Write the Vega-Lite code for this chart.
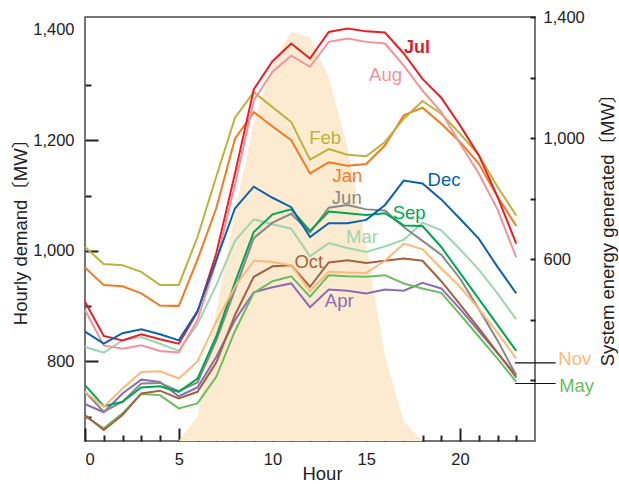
{
  "$schema": "https://vega.github.io/schema/vega-lite/v6.json",
  "width": 450,
  "height": 424,
  "autosize": {"type": "none"},
  "padding": {"left": 85, "top": 17, "right": 84, "bottom": 43},
  "background": "white",
  "config": {
    "font": "Liberation Sans, Noto Sans CJK JP, sans-serif",
    "view": {"stroke": "#4a4a4a", "strokeWidth": 1.5},
    "axis": {
      "domain": false,
      "grid": false,
      "tickColor": "#222222",
      "tickWidth": 2,
      "labelColor": "#222222",
      "titleColor": "#222222",
      "labelFont": "Liberation Sans, sans-serif",
      "titleFont": "Liberation Sans, Noto Sans CJK JP, sans-serif",
      "labelFontSize": 16.5,
      "titleFontSize": 18.5,
      "titleFontWeight": "normal"
    }
  },
  "datasets": {
    "demand": [
      {"h": 0, "Jan": 970, "Feb": 1007, "Mar": 826, "Apr": 723, "May": 701, "Jun": 745, "Jul": 908, "Aug": 893, "Sep": 757, "Oct": 703, "Nov": 745, "Dec": 854},
      {"h": 1, "Jan": 938, "Feb": 976, "Mar": 816, "Apr": 708, "May": 679, "Jun": 709, "Jul": 846, "Aug": 829, "Sep": 719, "Oct": 676, "Nov": 718, "Dec": 832},
      {"h": 2, "Jan": 936, "Feb": 974, "Mar": 838, "Apr": 742, "May": 706, "Jun": 727, "Jul": 838, "Aug": 823, "Sep": 727, "Oct": 703, "Nov": 751, "Dec": 851},
      {"h": 3, "Jan": 923, "Feb": 962, "Mar": 844, "Apr": 767, "May": 741, "Jun": 760, "Jul": 849, "Aug": 829, "Sep": 753, "Oct": 742, "Nov": 781, "Dec": 858},
      {"h": 4, "Jan": 901, "Feb": 938, "Mar": 832, "Apr": 763, "May": 739, "Jun": 761, "Jul": 840, "Aug": 819, "Sep": 755, "Oct": 747, "Nov": 782, "Dec": 849},
      {"h": 5, "Jan": 900, "Feb": 938, "Mar": 819, "Apr": 737, "May": 715, "Jun": 746, "Jul": 832, "Aug": 816, "Sep": 745, "Oct": 733, "Nov": 769, "Dec": 838},
      {"h": 6, "Jan": 984, "Feb": 1025, "Mar": 867, "Apr": 753, "May": 724, "Jun": 762, "Jul": 889, "Aug": 875, "Sep": 769, "Oct": 745, "Nov": 800, "Dec": 891},
      {"h": 7, "Jan": 1077, "Feb": 1134, "Mar": 938, "Apr": 808, "May": 772, "Jun": 838, "Jul": 995, "Aug": 980, "Sep": 845, "Oct": 798, "Nov": 872, "Dec": 983},
      {"h": 8, "Jan": 1203, "Feb": 1241, "Mar": 1018, "Apr": 875, "May": 855, "Jun": 930, "Jul": 1140, "Aug": 1120, "Sep": 943, "Oct": 884, "Nov": 935, "Dec": 1077},
      {"h": 9, "Jan": 1251, "Feb": 1287, "Mar": 1057, "Apr": 925, "May": 924, "Jun": 1023, "Jul": 1292, "Aug": 1272, "Sep": 1034, "Oct": 953, "Nov": 982, "Dec": 1116},
      {"h": 10, "Jan": 1225, "Feb": 1260, "Mar": 1048, "Apr": 934, "May": 945, "Jun": 1051, "Jul": 1343, "Aug": 1324, "Sep": 1066, "Oct": 972, "Nov": 980, "Dec": 1096},
      {"h": 11, "Jan": 1200, "Feb": 1233, "Mar": 1040, "Apr": 941, "May": 954, "Jun": 1067, "Jul": 1375, "Aug": 1353, "Sep": 1075, "Oct": 974, "Nov": 974, "Dec": 1079},
      {"h": 12, "Jan": 1140, "Feb": 1165, "Mar": 990, "Apr": 898, "May": 917, "Jun": 1033, "Jul": 1348, "Aug": 1333, "Sep": 1036, "Oct": 935, "Nov": 927, "Dec": 1025},
      {"h": 13, "Jan": 1160, "Feb": 1184, "Mar": 1014, "Apr": 930, "May": 956, "Jun": 1078, "Jul": 1396, "Aug": 1378, "Sep": 1071, "Oct": 979, "Nov": 962, "Dec": 1050},
      {"h": 14, "Jan": 1154, "Feb": 1174, "Mar": 1005, "Apr": 928, "May": 954, "Jun": 1083, "Jul": 1402, "Aug": 1384, "Sep": 1068, "Oct": 983, "Nov": 961, "Dec": 1050},
      {"h": 15, "Jan": 1157, "Feb": 1171, "Mar": 998, "Apr": 923, "May": 953, "Jun": 1075, "Jul": 1397, "Aug": 1378, "Sep": 1065, "Oct": 978, "Nov": 960, "Dec": 1056},
      {"h": 16, "Jan": 1191, "Feb": 1197, "Mar": 1008, "Apr": 930, "May": 956, "Jun": 1073, "Jul": 1395, "Aug": 1375, "Sep": 1068, "Oct": 982, "Nov": 982, "Dec": 1083},
      {"h": 17, "Jan": 1245, "Feb": 1239, "Mar": 1020, "Apr": 928, "May": 941, "Jun": 1043, "Jul": 1357, "Aug": 1335, "Sep": 1046, "Oct": 986, "Nov": 1013, "Dec": 1127},
      {"h": 18, "Jan": 1259, "Feb": 1271, "Mar": 1051, "Apr": 942, "May": 932, "Jun": 1018, "Jul": 1311, "Aug": 1290, "Sep": 1045, "Oct": 982, "Nov": 1003, "Dec": 1122},
      {"h": 19, "Jan": 1230, "Feb": 1248, "Mar": 1037, "Apr": 932, "May": 924, "Jun": 993, "Jul": 1277, "Aug": 1251, "Sep": 1007, "Oct": 945, "Nov": 968, "Dec": 1093},
      {"h": 20, "Jan": 1197, "Feb": 1212, "Mar": 1003, "Apr": 895, "May": 885, "Jun": 950, "Jul": 1227, "Aug": 1194, "Sep": 960, "Oct": 903, "Nov": 935, "Dec": 1058},
      {"h": 21, "Jan": 1158, "Feb": 1173, "Mar": 966, "Apr": 855, "May": 845, "Jun": 895, "Jul": 1173, "Aug": 1140, "Sep": 913, "Oct": 860, "Nov": 895, "Dec": 1022},
      {"h": 22, "Jan": 1098, "Feb": 1116, "Mar": 923, "Apr": 815, "May": 805, "Jun": 838, "Jul": 1098, "Aug": 1075, "Sep": 866, "Oct": 816, "Nov": 852, "Dec": 971},
      {"h": 23, "Jan": 1045, "Feb": 1064, "Mar": 876, "Apr": 775, "May": 763, "Jun": 775, "Jul": 1013, "Aug": 988, "Sep": 819, "Oct": 771, "Nov": 805, "Dec": 923}
    ],
    "solar": [
      {"h": 5, "gen": 0},
      {"h": 6, "gen": 80},
      {"h": 7, "gen": 430},
      {"h": 8, "gen": 755},
      {"h": 9, "gen": 1050},
      {"h": 10, "gen": 1240},
      {"h": 11, "gen": 1352},
      {"h": 12, "gen": 1332},
      {"h": 13, "gen": 1200},
      {"h": 14, "gen": 970},
      {"h": 15, "gen": 645},
      {"h": 16, "gen": 280},
      {"h": 17, "gen": 64},
      {"h": 18, "gen": 0}
    ],
    "labels": [
      {"month": "Aug", "lx": 16.03, "ly": 1318},
      {"month": "Feb", "lx": 12.81, "ly": 1205},
      {"month": "Jan", "lx": 13.99, "ly": 1135},
      {"month": "Dec", "lx": 19.15, "ly": 1128},
      {"month": "Jun", "lx": 13.96, "ly": 1095},
      {"month": "Sep", "lx": 17.29, "ly": 1069},
      {"month": "Mar", "lx": 14.77, "ly": 1025},
      {"month": "Oct", "lx": 11.94, "ly": 980},
      {"month": "Apr", "lx": 13.56, "ly": 910},
      {"month": "Nov", "lx": 26.12, "ly": 805},
      {"month": "May", "lx": 26.22, "ly": 756}
    ],
    "julLabel": [
      {"month": "Jul", "lx": 17.7, "ly": 1367}
    ],
    "leaders": [
      {"month": "Nov", "x1": 22.93, "x2": 25.1, "ly": 797.5},
      {"month": "May", "x1": 22.93, "x2": 25.1, "ly": 760}
    ],
    "ticks": [
      {"h": 0, "v": 700}
    ]
  },
  "layer": [
    {
      "data": {"name": "solar"},
      "mark": {"type": "area", "color": "#FDEBD1", "interpolate": "linear"},
      "encoding": {
        "x": {"field": "h", "type": "quantitative", "scale": {"domain": [0, 24], "nice": false, "zero": false}, "axis": null},
        "y": {
          "field": "gen", "type": "quantitative",
          "scale": {"domain": [0, 1400], "nice": false, "zero": false},
          "axis": {
            "orient": "right",
            "values": [200, 400, 600, 800, 1000, 1200, 1400],
            "labelExpr": "datum.value == 600 || datum.value == 1000 || datum.value == 1400 ? format(datum.value, ',') : ''",
            "tickSize": -5,
            "labelPadding": 13,
            "title": "System energy generated〔MW〕",
            "titleAngle": 270,
            "titleX": 78.5,
            "titleY": 208,
            "titleAlign": "center",
            "titleBaseline": "alphabetic"
          }
        }
      }
    },
    {
      "data": {"name": "ticks"},
      "mark": {"type": "point", "opacity": 0},
      "encoding": {
        "x": {
          "field": "h", "type": "quantitative",
          "scale": {"domain": [0, 24], "nice": false, "zero": false},
          "axis": {"orient": "bottom", "values": [1, 2, 3, 4, 6, 7, 8, 9, 11, 12, 13, 14, 16, 17, 18, 19, 21, 22, 23], "labels": false, "tickSize": -6, "title": null}
        },
        "y": {
          "field": "v", "type": "quantitative",
          "scale": {"domain": [656, 1423], "nice": false, "zero": false},
          "axis": {"orient": "left", "values": [700, 900, 1100, 1300], "labels": false, "tickSize": -6, "title": null}
        }
      }
    },
    {
      "data": {"name": "demand"},
      "transform": [{"fold": ["Jan", "Feb", "Mar", "Apr", "May", "Jun", "Jul", "Aug", "Sep", "Oct", "Nov", "Dec"], "as": ["month", "v"]}],
      "mark": {"type": "line", "strokeWidth": 2, "interpolate": "linear"},
      "encoding": {
        "x": {
          "field": "h", "type": "quantitative",
          "scale": {"domain": [0, 24], "nice": false, "zero": false},
          "axis": {
            "orient": "bottom",
            "values": [0, 5, 10, 15, 20],
            "tickSize": -13,
            "labelPadding": 23,
            "title": "Hour",
            "titleX": 237,
            "titleY": 38,
            "titleAlign": "center",
            "titleBaseline": "alphabetic"
          }
        },
        "y": {
          "field": "v", "type": "quantitative",
          "scale": {"domain": [656, 1423], "nice": false, "zero": false},
          "axis": {
            "orient": "left",
            "values": [800, 1000, 1200, 1400],
            "labelExpr": "format(datum.value, ',')",
            "tickSize": -13,
            "tickOpacity": {"condition": {"test": "datum.value == 1400", "value": 0}, "value": 1},
            "labelPadding": 24,
            "title": "Hourly demand〔MW〕",
            "titleAngle": 270,
            "titleX": -58.3,
            "titleY": 210,
            "titleAlign": "center",
            "titleBaseline": "alphabetic"
          }
        },
        "color": {
          "field": "month", "type": "nominal",
          "scale": {
            "domain": ["Jan", "Feb", "Mar", "Apr", "May", "Jun", "Jul", "Aug", "Sep", "Oct", "Nov", "Dec"],
            "range": ["#F47A20", "#BDB23A", "#9DD5B1", "#8B6CB7", "#6ABD5F", "#888888", "#E62028", "#F2939C", "#00A650", "#A3613F", "#FDB97A", "#0B62AE"]
          },
          "legend": null
        }
      }
    },
    {
      "data": {"name": "leaders"},
      "mark": {"type": "rule", "color": "#111111", "strokeWidth": 1.2},
      "encoding": {
        "x": {"field": "x1", "type": "quantitative", "scale": {"domain": [0, 24], "nice": false, "zero": false}, "axis": null},
        "x2": {"field": "x2"},
        "y": {"field": "ly", "type": "quantitative", "scale": {"domain": [656, 1423], "nice": false, "zero": false}, "axis": null}
      }
    },
    {
      "data": {"name": "labels"},
      "mark": {"type": "text", "fontSize": 18.5, "align": "center", "baseline": "middle", "font": "Liberation Sans, sans-serif"},
      "encoding": {
        "x": {"field": "lx", "type": "quantitative", "scale": {"domain": [0, 24], "nice": false, "zero": false}, "axis": null},
        "y": {"field": "ly", "type": "quantitative", "scale": {"domain": [656, 1423], "nice": false, "zero": false}, "axis": null},
        "text": {"field": "month"},
        "color": {"field": "month", "type": "nominal", "legend": null}
      }
    },
    {
      "data": {"name": "julLabel"},
      "mark": {"type": "text", "fontSize": 18, "fontWeight": "bold", "align": "center", "baseline": "middle", "font": "Liberation Sans, sans-serif"},
      "encoding": {
        "x": {"field": "lx", "type": "quantitative", "scale": {"domain": [0, 24], "nice": false, "zero": false}, "axis": null},
        "y": {"field": "ly", "type": "quantitative", "scale": {"domain": [656, 1423], "nice": false, "zero": false}, "axis": null},
        "text": {"field": "month"},
        "color": {"value": "#D81E2B"}
      }
    }
  ],
  "resolve": {"scale": {"y": "independent"}, "axis": {"x": "independent", "y": "independent"}}
}
